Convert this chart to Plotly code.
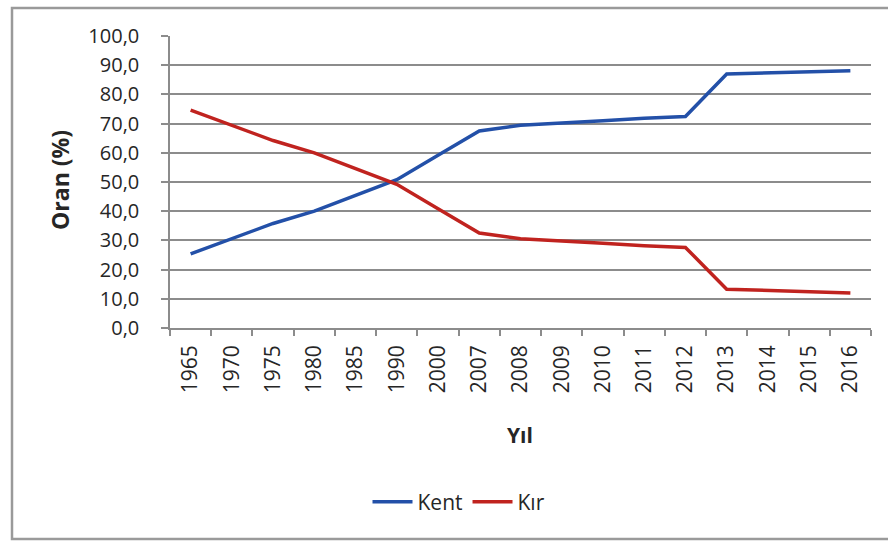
import plotly.graph_objects as go

years = ["1965", "1970", "1975", "1980", "1985", "1990", "2000", "2007", "2008",
         "2009", "2010", "2011", "2012", "2013", "2014", "2015", "2016"]
kent = [25.4, 30.6, 35.8, 40.0, 45.5, 50.8, 59.2, 67.5, 69.4, 70.3, 71.0, 71.8, 72.4, 87.0, 87.4, 87.7, 88.1]
kir = [74.6, 69.4, 64.2, 60.0, 54.5, 49.2, 40.8, 32.5, 30.6, 29.7, 29.0, 28.2, 27.6, 13.3, 12.8, 12.4, 12.0]
ytick_vals = [0, 10, 20, 30, 40, 50, 60, 70, 80, 90, 100]
ytick_text = ["0,0", "10,0", "20,0", "30,0", "40,0", "50,0", "60,0", "70,0", "80,0", "90,0", "100,0"]

W, H = 888, 543
L, R, T, B = 170, 871, 36, 328

def px_x(p):
    return (p - L) / (R - L)

def px_y(p):
    return (B - p) / (B - T)

FONT = "Open Sans"
TXT = "#262626"
GRID = "#8c8c8c"

fig = go.Figure()
fig.add_trace(go.Scatter(x=years, y=kent, name="Kent", mode="lines",
                         line=dict(color="#2350A8", width=3.5)))
fig.add_trace(go.Scatter(x=years, y=kir, name="Kır", mode="lines",
                         line=dict(color="#C0231F", width=3.5)))

fig.update_layout(
    width=W, height=H,
    margin=dict(l=L, r=W - R, t=T, b=H - B),
    paper_bgcolor="white", plot_bgcolor="white",
    font=dict(family=FONT, size=20, color=TXT),
    showlegend=True,
    legend=dict(orientation="h", x=px_x(459), y=px_y(502), xanchor="center", yanchor="middle",
                font=dict(family=FONT, size=21, color=TXT), itemwidth=40,
                bgcolor="rgba(0,0,0,0)"),
    xaxis=dict(type="category", tickson="boundaries", ticks="outside", ticklen=6,
               tickcolor=GRID, tickwidth=1.5, showline=True, linecolor=GRID, linewidth=1.5,
               showgrid=False, tickangle=-90, tickfont=dict(size=21, color=TXT),
               ticklabelstandoff=7, range=[-0.5, len(years) - 0.5], fixedrange=True),
    yaxis=dict(range=[0, 100], tickvals=ytick_vals, ticktext=ytick_text, ticks="outside",
               ticklen=7, tickcolor=GRID, tickwidth=1.5, showline=True, linecolor=GRID,
               linewidth=1.5, showgrid=True, gridcolor=GRID, gridwidth=1.5, zeroline=False,
               tickfont=dict(size=20, color=TXT), ticklabelstandoff=18, fixedrange=True),
    shapes=[dict(type="rect", xref="paper", yref="paper",
                 x0=px_x(12), x1=px_x(895), y0=px_y(539), y1=px_y(8),
                 line=dict(color="#9a9a9a", width=2.5), fillcolor="rgba(0,0,0,0)", layer="below")],
    annotations=[
        dict(text="<b>Oran (%)</b>", xref="paper", yref="paper", x=px_x(60), y=px_y(180),
             showarrow=False, textangle=-90, font=dict(size=23, color=TXT, family=FONT),
             xanchor="center", yanchor="middle"),
        dict(text="<b>Yıl</b>", xref="paper", yref="paper", x=px_x(520), y=px_y(435),
             showarrow=False, font=dict(size=21, color=TXT, family=FONT),
             xanchor="center", yanchor="middle"),
    ],
)

fig.write_html("out.html", config={"displayModeBar": False},
               post_script="document.body.style.margin='0px';")
